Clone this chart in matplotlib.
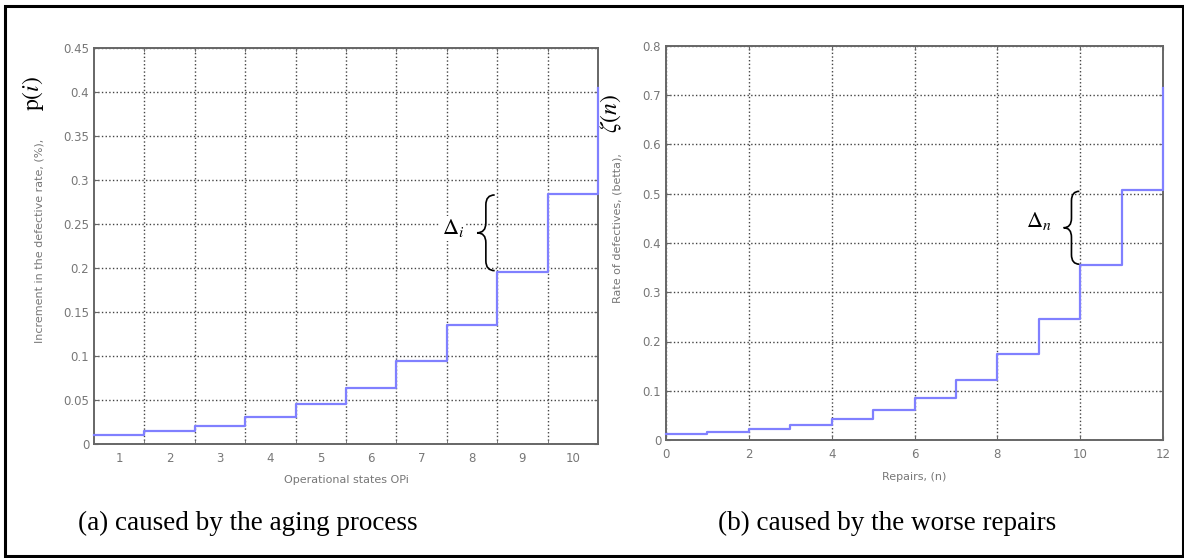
import numpy as np
import matplotlib.pyplot as plt
from matplotlib.path import Path
from matplotlib.patches import PathPatch, Rectangle

plt.rcParams['mathtext.fontset'] = 'stix'

# (a) increment of the defective rate per operational state
states = [1, 2, 3, 4, 5, 6, 7, 8, 9, 10]
state_edges = [0.5, 1.5, 2.5, 3.5, 4.5, 5.5, 6.5, 7.5, 8.5, 9.5, 10.5]
p_values = [0.010, 0.015, 0.021, 0.031, 0.045, 0.064, 0.094, 0.135, 0.195, 0.284, 0.405]

# (b) rate of defectives after n repairs
repairs = [0, 1, 2, 3, 4, 5, 6, 7, 8, 9, 10, 11, 12]
zeta_values = [0.013, 0.017, 0.022, 0.031, 0.042, 0.060, 0.086, 0.121, 0.174,
               0.246, 0.355, 0.507, 0.715]

W, H = 1184, 558
LINE = '#8080ff'
GRAY = '#777777'


def fx(x):
    return x / W


def fy(y):
    return 1 - y / H


def brace(ax, x_end, x_cusp, y0, y1):
    xm = (x_end + x_cusp) / 2
    ym = (y0 + y1) / 2
    d = (y1 - y0) * 0.13
    verts = [(x_end, y1), (xm, y1), (xm, y1 - d),
             (xm, ym + d), (xm, ym), (x_cusp, ym),
             (xm, ym), (xm, ym - d),
             (xm, y0 + d), (xm, y0), (x_end, y0)]
    codes = [Path.MOVETO, Path.CURVE3, Path.CURVE3,
             Path.LINETO, Path.CURVE3, Path.CURVE3,
             Path.CURVE3, Path.CURVE3,
             Path.LINETO, Path.CURVE3, Path.CURVE3]
    ax.add_patch(PathPatch(Path(verts, codes), fill=False, lw=1.2,
                           color='black', clip_on=False, zorder=5))


def style(ax):
    for s in ax.spines.values():
        s.set_color('#666666')
        s.set_linewidth(1.4)
    ax.tick_params(which='both', direction='in', colors='#666666',
                   labelcolor=GRAY, labelsize=8.5, top=True, right=True, length=3)
    ax.tick_params(axis='x', pad=6)
    ax.grid(True, which='major', axis='y', ls=':', color='#444444', lw=1)


fig = plt.figure(figsize=(W / 100, H / 100), dpi=100)

# outer frame
fig.patches.append(Rectangle((fx(5), fy(556)), fx(1178), 550 / H, transform=fig.transFigure,
                             fill=False, ec='black', lw=2.2))

# ---- (a) aging process ----
ax1 = fig.add_axes([fx(94), fy(444), fx(504), 396 / H])
ax1.step(state_edges, p_values, where='post', color=LINE, lw=1.6,
         clip_on=False, zorder=4)
ax1.set_xlim(0.5, 10.5)
ax1.set_ylim(0, 0.45)
ax1.set_xticks(states)
ax1.set_xticks(state_edges[1:-1], minor=True)
ax1.set_yticks(np.arange(0, 0.451, 0.05))
ax1.set_yticklabels(['0', '0.05', '0.1', '0.15', '0.2', '0.25', '0.3', '0.35', '0.4', '0.45'])
style(ax1)
ax1.tick_params(axis='x', which='major', length=0)
ax1.grid(True, which='minor', axis='x', ls=':', color='#444444', lw=1)
ax1.set_xlabel('Operational states OPi', fontsize=8, color=GRAY, labelpad=7)

brace(ax1, 8.45, 8.1, 0.197, 0.283)
ax1.text(7.62, 0.245, r'$\Delta_i$', fontsize=16, ha='center', va='center',
         bbox=dict(fc='white', ec='none', pad=1), zorder=6)

fig.text(fx(40), fy(135), 'Increment in the defective rate, (%), ', rotation=90,
         ha='center', va='top', fontsize=8, color=GRAY)
fig.text(fx(33), fy(76), r'$\mathrm{p}(i)$', rotation=90, ha='center', va='top',
         fontsize=17)

# ---- (b) worse repairs ----
ax2 = fig.add_axes([fx(666), fy(440), fx(497), 394 / H])
ax2.step(repairs, zeta_values, where='post', color=LINE, lw=1.6,
         clip_on=False, zorder=4)
ax2.set_xlim(0, 12)
ax2.set_ylim(0, 0.8)
ax2.set_xticks(range(0, 13, 2))
ax2.set_yticks(np.arange(0, 0.81, 0.1))
ax2.set_yticklabels(['0', '0.1', '0.2', '0.3', '0.4', '0.5', '0.6', '0.7', '0.8'])
style(ax2)
ax2.grid(True, which='major', axis='x', ls=':', color='#444444', lw=1)
ax2.set_xlabel('Repairs, (n)', fontsize=8, color=GRAY, labelpad=8)

brace(ax2, 9.98, 9.6, 0.357, 0.505)
ax2.text(9.0, 0.445, r'$\Delta_n$', fontsize=16, ha='center', va='center',
         bbox=dict(fc='white', ec='none', pad=1), zorder=6)

fig.text(fx(618), fy(150), 'Rate of defectives, (betta), ', rotation=90,
         ha='center', va='top', fontsize=8, color=GRAY)
fig.text(fx(611), fy(94), r'$\zeta(n)$', rotation=90, ha='center', va='top',
         fontsize=17)

# captions
fig.text(fx(78), fy(523), '(a) caused by the aging process', fontsize=19.5,
         family='Liberation Serif', ha='left', va='center')
fig.text(fx(718), fy(523), '(b) caused by the worse repairs', fontsize=19.5,
         family='Liberation Serif', ha='left', va='center')

fig.savefig('out.png', dpi=100)
